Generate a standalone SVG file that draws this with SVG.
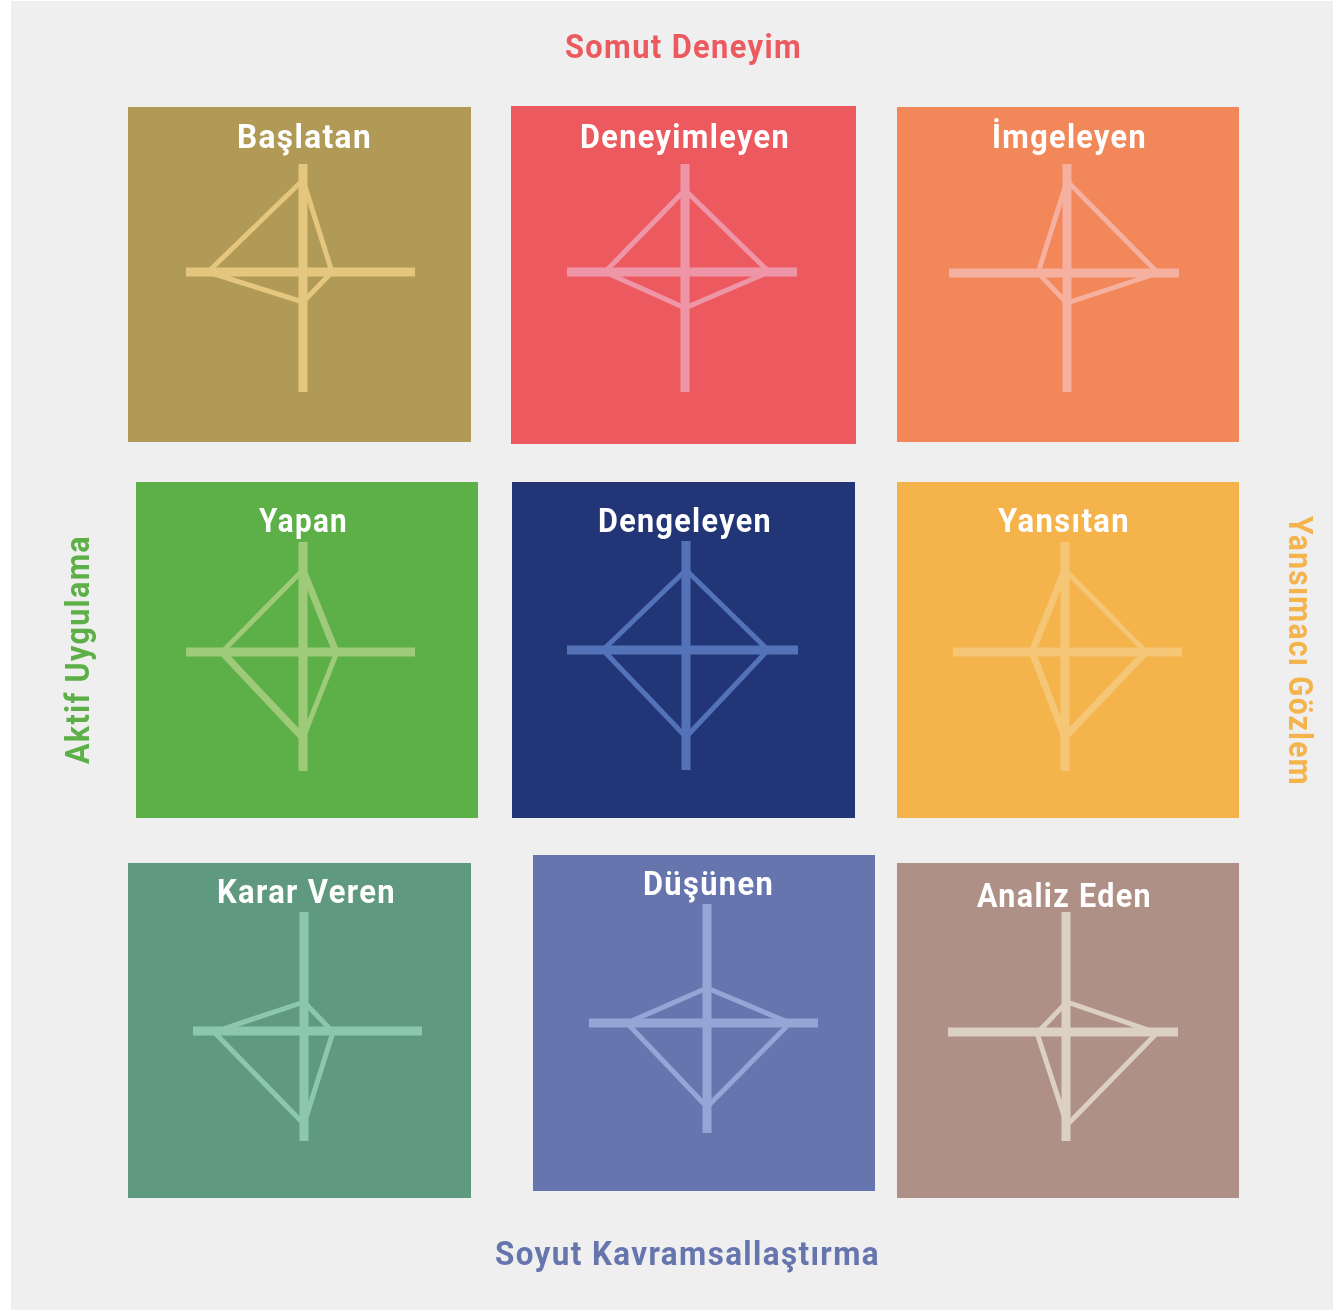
<svg xmlns="http://www.w3.org/2000/svg" width="1333" height="1310" viewBox="0 0 1333 1310">
<style>
text{font-family:"Roboto","Liberation Sans",sans-serif;font-weight:700;font-size:34px;letter-spacing:1.5px;fill:#fff}
.c{stroke-width:9;fill:none}
.p{fill:none;stroke-width:5;stroke-linejoin:round;stroke-linecap:round}
.t{stroke-width:7;fill:none;stroke-linecap:round}
</style>
<defs><filter id="b" x="-2%" y="-2%" width="104%" height="104%"><feGaussianBlur stdDeviation="0.7"/></filter></defs>
<rect width="1333" height="1310" fill="#fff"/>
<g filter="url(#b)">
<rect x="11" y="1" width="1322" height="1309" fill="#efefef"/>
<g id="baslatan"><rect x="128" y="107" width="343" height="335" fill="#b09a55"/>
<g stroke="#e5c67e"><path class="c" d="M186 272H415M303 164V392"/><path class="p" d="M303 180L332 272L303 302L208 272Z"/></g>
<text x="237" y="148" textLength="135" lengthAdjust="spacingAndGlyphs">Başlatan</text></g>
<g id="deneyimleyen"><rect x="511" y="106" width="345" height="338" fill="#ec5a60"/>
<g stroke="#ef95a8"><path class="c" d="M567 272H797M685 164V392"/><path class="p" d="M685 190L769 272L685 308L605 272Z"/></g>
<text x="580" y="148" textLength="210" lengthAdjust="spacingAndGlyphs">Deneyimleyen</text></g>
<g id="imgeleyen"><rect x="897" y="107" width="342" height="335" fill="#f2875a"/>
<g stroke="#f6b0a0"><path class="c" d="M949 273H1179M1067 164V392"/><path class="p" d="M1067 181L1158 273L1067 303L1038 273Z"/></g>
<text x="992" y="148" textLength="155" lengthAdjust="spacingAndGlyphs">İmgeleyen</text></g>
<g id="yapan"><rect x="136" y="482" width="342" height="336" fill="#5cb047"/>
<g stroke="#9fca7a"><path class="c" d="M186 652H415M303 542V771"/><path class="p" d="M303 570L222 652M337 652L303 738"/><path class="t" d="M303 570L336 652M222 652L303 738"/></g>
<text x="259" y="532" textLength="89" lengthAdjust="spacingAndGlyphs">Yapan</text></g>
<g id="dengeleyen"><rect x="512" y="482" width="343" height="336" fill="#233676"/>
<g stroke="#5272b8"><path class="c" d="M567 650H798M686 541V770"/><path class="p" d="M686 570L768 650L686 737L603 650Z"/></g>
<text x="598" y="532" textLength="174" lengthAdjust="spacingAndGlyphs">Dengeleyen</text></g>
<g id="yansitan"><rect x="897" y="482" width="342" height="336" fill="#f4b34c"/>
<g stroke="#f4c676"><path class="c" d="M953 652H1182M1065 542V771"/><path class="p" d="M1065 570L1146 652"/><path class="t" d="M1065 570L1032 652L1065 737L1146 652"/></g>
<text x="998" y="532" textLength="132" lengthAdjust="spacingAndGlyphs">Yansıtan</text></g>
<g id="karar-veren"><rect x="128" y="863" width="343" height="335" fill="#5f9a80"/>
<g stroke="#8cc7ac"><path class="c" d="M193 1031H422M304 912V1141"/><path class="p" d="M304 1002L333 1032L304 1124L214 1032Z"/></g>
<text x="217" y="903" textLength="179" lengthAdjust="spacingAndGlyphs">Karar Veren</text></g>
<g id="dusunen"><rect x="533" y="855" width="342" height="336" fill="#6675ae"/>
<g stroke="#94a6d6"><path class="c" d="M589 1023H818M707 904V1133"/><path class="p" d="M707 988L790 1023L707 1107L627 1023Z"/></g>
<text x="643" y="895" textLength="131" lengthAdjust="spacingAndGlyphs">Düşünen</text></g>
<g id="analiz-eden"><rect x="897" y="863" width="342" height="335" fill="#ae9087"/>
<g stroke="#dccfc4"><path class="c" d="M948 1032H1178M1066 912V1141"/><path class="p" d="M1067 1002L1157 1033L1067 1125L1037 1033Z"/></g>
<text x="977" y="907" textLength="175" lengthAdjust="spacingAndGlyphs">Analiz Eden</text></g>
<text x="565" y="58" textLength="237" lengthAdjust="spacingAndGlyphs" style="fill:#ec5a60">Somut Deneyim</text>
<text x="495" y="1265" textLength="385" lengthAdjust="spacingAndGlyphs" style="fill:#6675ae">Soyut Kavramsallaştırma</text>
<text transform="translate(89 764) rotate(-90)" textLength="229" lengthAdjust="spacingAndGlyphs" style="fill:#5cb047">Aktif Uygulama</text>
<text transform="translate(1289 516) rotate(90)" textLength="270" lengthAdjust="spacingAndGlyphs" style="fill:#f4b34c">Yansımacı Gözlem</text>
</g>
</svg>
